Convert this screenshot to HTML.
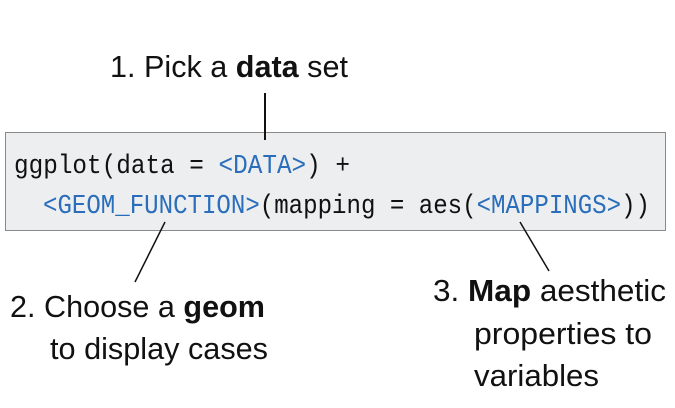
<!DOCTYPE html>
<html><head><meta charset="utf-8"><style>
html,body{margin:0;padding:0;background:#fff;}
svg{display:block;}
text{font-family:"Liberation Sans",sans-serif;fill:#111;}
.m{font-family:"Liberation Mono",monospace;font-size:27px;fill:#111;}
.b{fill:#2a6ebb;}
</style></head><body>
<svg width="675" height="408" viewBox="0 0 675 408" xmlns="http://www.w3.org/2000/svg">
<rect x="5.5" y="132.5" width="660" height="98" fill="#eceeef" stroke="#8a8a8a" stroke-width="1"/>
<text class="m" x="14" y="173" textLength="336" lengthAdjust="spacingAndGlyphs">ggplot(data = <tspan class="b">&lt;DATA&gt;</tspan>) +</text>
<text class="m" x="43" y="213" textLength="607" lengthAdjust="spacingAndGlyphs"><tspan class="b">&lt;GEOM_FUNCTION&gt;</tspan>(mapping = aes(<tspan class="b">&lt;MAPPINGS&gt;</tspan>))</text>
<line x1="265" y1="93" x2="265" y2="140" stroke="#111" stroke-width="2"/>
<line x1="165" y1="222" x2="135" y2="282" stroke="#111" stroke-width="1.5"/>
<line x1="520" y1="222" x2="549" y2="271" stroke="#111" stroke-width="1.5"/>
<text x="110" y="77" font-size="31" textLength="238" lengthAdjust="spacingAndGlyphs">1.  Pick a <tspan font-weight="bold">data</tspan> set</text>
<text x="10" y="317" font-size="31" textLength="255" lengthAdjust="spacingAndGlyphs">2.  Choose a <tspan font-weight="bold">geom</tspan></text>
<text x="50" y="359" font-size="31" textLength="218" lengthAdjust="spacingAndGlyphs">to display cases</text>
<text x="433" y="301" font-size="31" textLength="233" lengthAdjust="spacingAndGlyphs">3.  <tspan font-weight="bold">Map</tspan> aesthetic</text>
<text x="474" y="344" font-size="31" textLength="178" lengthAdjust="spacingAndGlyphs">properties to</text>
<text x="474" y="386" font-size="31" textLength="125" lengthAdjust="spacingAndGlyphs">variables</text>
</svg>
</body></html>
